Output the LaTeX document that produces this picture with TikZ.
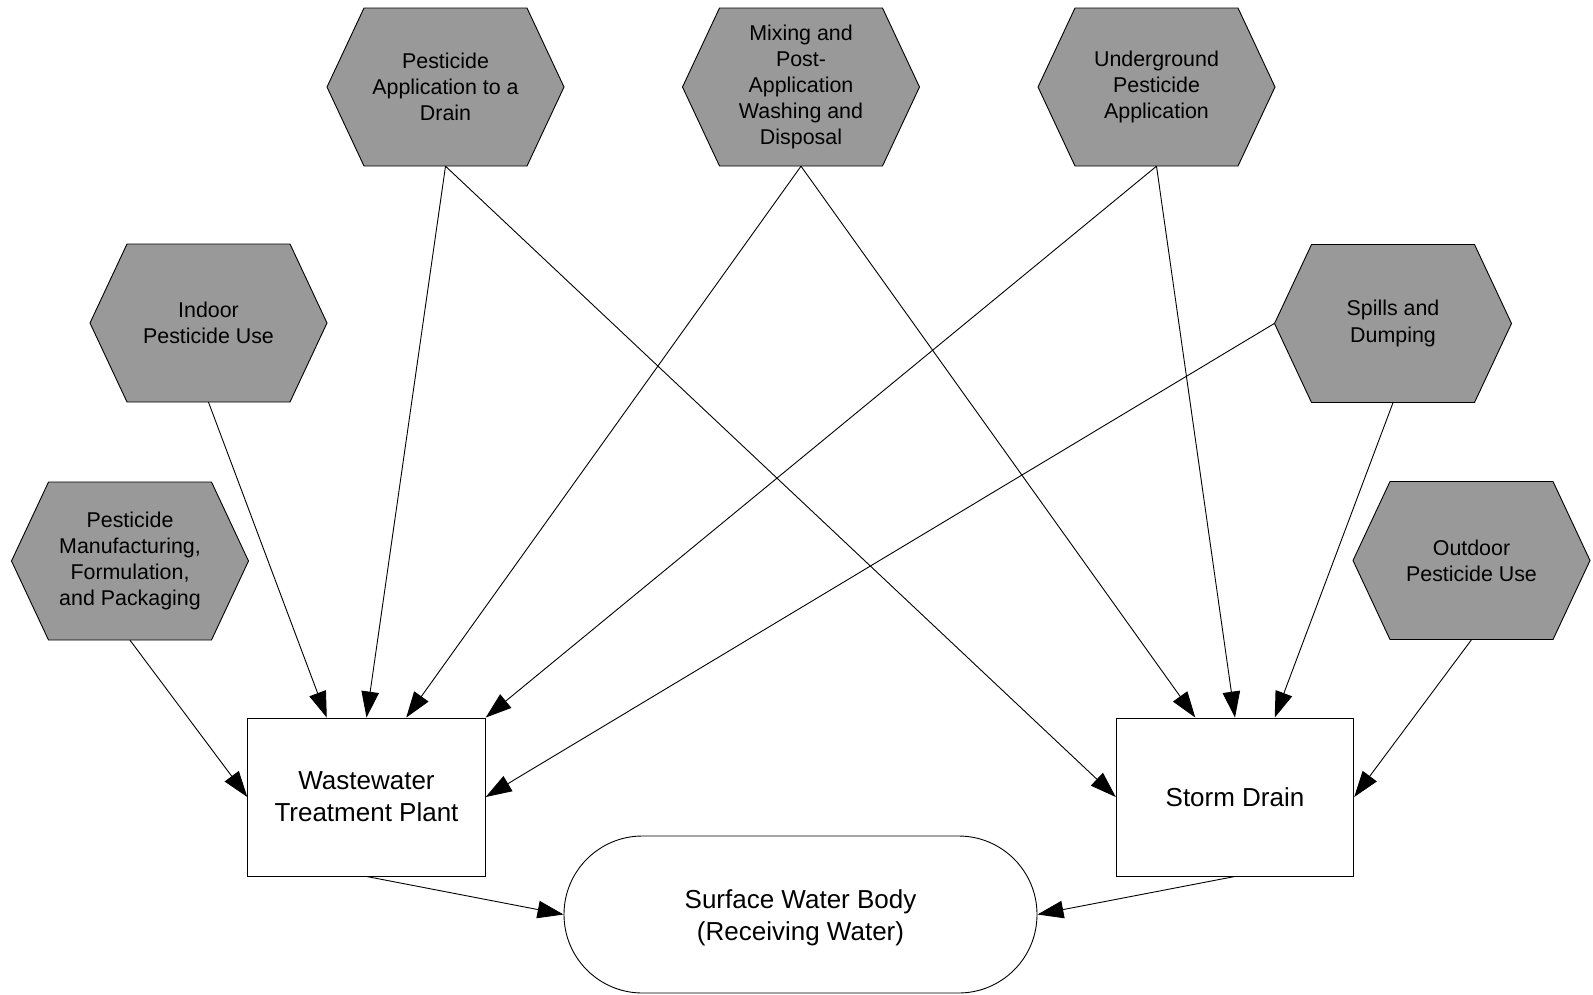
\documentclass[tikz,border=0pt]{standalone}
\usepackage{fontspec}
\setmainfont{Liberation Sans}
\usetikzlibrary{arrows.meta,calc}
\definecolor{hexgray}{RGB}{153,153,153}

% A grey hexagonal source node: name, centre, text
\newcommand\hexsource[3]{%
  \filldraw[hexline, shift={(#2)}] (-118.5,0) -- (-81.5,-79) -- (81.5,-79)
     -- (118.5,0) -- (81.5,79) -- (-81.5,79) -- cycle;
  \node[hextext] (#1) at (#2) {#3};}

\begin{document}
\begin{tikzpicture}[x=1pt,y=-1pt,
  hexline/.style={draw=black, line width=0.9pt, fill=hexgray},
  hextext/.style={rectangle, minimum width=237pt, minimum height=158pt,
    inner sep=0pt, align=center, font=\fontsize{21.4}{26.1}\selectfont},
  boxnode/.style={draw, line width=0.9pt, fill=white, minimum width=237.5pt,
    minimum height=158pt, inner sep=0pt, align=center,
    font=\fontsize{26}{32}\selectfont},
  flow/.style={line width=0.9pt, -{Triangle[length=26pt,width=17.5pt]}}]

\useasboundingbox (0,0) rectangle (1593,994);

% pollutant sources
\hexsource{pestapp}{445.5,87}{Pesticide\\Application to a\\Drain}
\hexsource{mixing}{801,87}{Mixing and\\Post-\\Application\\Washing and\\Disposal}
\hexsource{underground}{1156.5,87}{Underground\\Pesticide\\Application}
\hexsource{indoor}{208.5,323}{Indoor\\Pesticide Use}
\hexsource{spills}{1393,323.5}{Spills and\\Dumping}
\hexsource{manuf}{130,561}{Pesticide\\Manufacturing,\\Formulation,\\and Packaging}
\hexsource{outdoor}{1471.5,560.5}{Outdoor\\Pesticide Use}

% pathways and receiving water
\node[boxnode] (wwtp) at (366.5,797) {Wastewater\\Treatment Plant};
\node[boxnode] (storm) at (1235,797) {Storm Drain};
\node[boxnode, minimum width=473pt, minimum height=157pt,
  rounded corners=78.4pt] (water) at (800.5,914.5) {};
\node[font=\fontsize{26}{32}\selectfont, align=center, inner sep=0pt]
  (watertext) at ($(water.center)+(0,3)$) {Surface Water Body\\(Receiving Water)};

% flows into the treatment plant
\draw[flow] (manuf.south) -- (wwtp.west);
\draw[flow] (indoor.south) -- ($(wwtp.north west)!1/3!(wwtp.north east)$);
\draw[flow] (pestapp.south) -- (wwtp.north);
\draw[flow] (mixing.south) -- ($(wwtp.north west)!2/3!(wwtp.north east)$);
\draw[flow] (underground.south) -- (wwtp.north east);
\draw[flow] (spills.west) -- (wwtp.east);

% flows into the storm drain
\draw[flow] (pestapp.south) -- (storm.west);
\draw[flow] (mixing.south) -- ($(storm.north west)!1/3!(storm.north east)$);
\draw[flow] (underground.south) -- (storm.north);
\draw[flow] (spills.south) -- ($(storm.north west)!2/3!(storm.north east)$);
\draw[flow] (outdoor.south) -- (storm.east);

% discharge to the water body
\draw[flow] (wwtp.south) -- (water.west);
\draw[flow] (storm.south) -- (water.east);
\end{tikzpicture}
\end{document}
